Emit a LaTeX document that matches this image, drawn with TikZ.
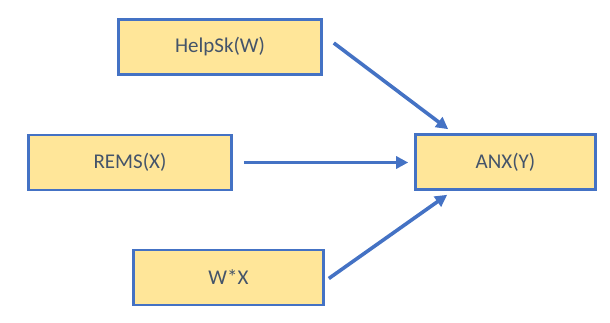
\documentclass[tikz,border=0pt]{standalone}
\usepackage{fontspec}
\setmainfont{Carlito}
\usetikzlibrary{arrows.meta}
\definecolor{boxfill}{HTML}{FFE699}
\definecolor{boxline}{HTML}{4472C4}
\definecolor{boxtext}{HTML}{44546A}
\begin{document}
\begin{tikzpicture}[x=1pt,y=1pt,
  varbox/.style={draw=boxline, fill=boxfill, line width=2.6pt,
    text=boxtext, font=\fontsize{21}{25}\selectfont,
    inner sep=0pt, minimum height=55pt},
  link/.style={draw=boxline, line width=3.6pt,
    -{Triangle[length=12pt,width=12pt]}}]
\useasboundingbox (0,0) rectangle (610,322);
% variable boxes
\node[varbox, minimum width=203pt] (w) at (220,275) {HelpSk(W)};
\node[varbox, minimum width=203pt] (x) at (130,159.5) {REMS(X)};
\node[varbox, minimum width=190pt] (wx) at (228.5,44.5) {W*X};
\node[varbox, minimum width=180pt] (y) at (505.5,160) {ANX(Y)};
% connector end points
\coordinate (ws) at ([xshift=11pt,yshift=4pt]w.east);
\coordinate (wt) at ([xshift=34pt,yshift=4pt]y.north west);
\coordinate (xs) at ([xshift=11pt]x.east);
\coordinate (xt) at ([xshift=-6pt]y.west);
\coordinate (wxs) at ([xshift=4pt,yshift=-1pt]wx.east);
\coordinate (wxt) at ([xshift=33pt,yshift=-4pt]y.south west);
% effects on ANX
\draw[link] (ws) -- (wt);
\draw[link] (xs) -- (xt |- xs);
\draw[link] (wxs) -- (wxt);
\end{tikzpicture}
\end{document}
